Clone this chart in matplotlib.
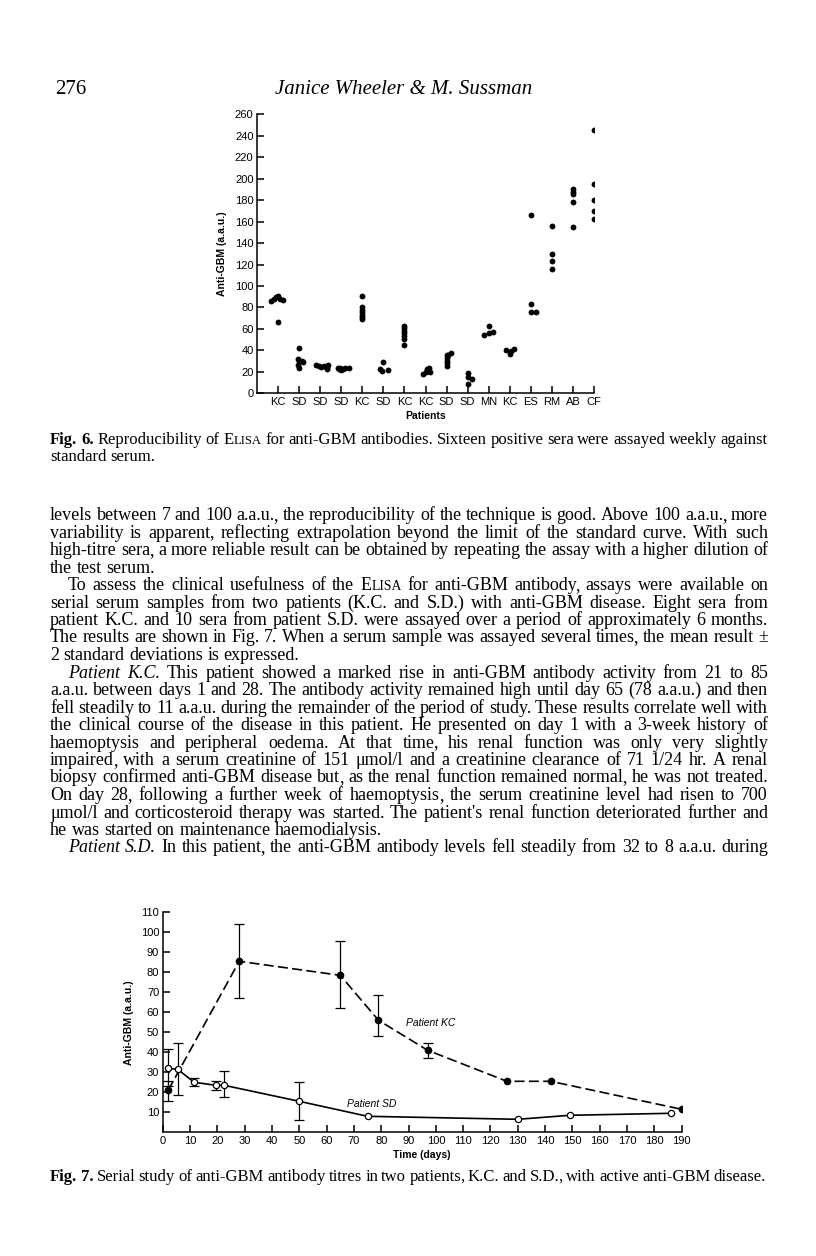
import matplotlib
matplotlib.use("Agg")
import matplotlib.pyplot as plt
import numpy as np

W, H = 816, 1256
SERIF = "Liberation Serif"
SANS = "Liberation Sans"

# Fig. 6: anti-GBM (a.a.u.) of sixteen sera, assayed repeatedly
patients = ["KC", "SD", "SD", "SD", "KC", "SD", "KC", "KC",
            "SD", "SD", "MN", "KC", "ES", "RM", "AB", "CF"]
sera_values = [
    [86, 88, 90, 91, 88, 87, 66],
    [42, 32, 30, 30, 29, 26, 24],
    [26, 25, 24.5, 25, 24, 26.5, 23],
    [24, 23.5, 21.5, 23, 23.5, 23.5, 22.5],
    [91, 80, 78, 76, 73, 71, 69],
    [29, 22.5, 21, 21.5],
    [63, 60.5, 58, 56, 53.5, 51, 45],
    [18, 20, 22.5, 24, 20, 21.5],
    [35.5, 33, 30.5, 28, 25, 37.5, 36],
    [18.5, 15, 13.5, 8.5],
    [63, 54.5, 56, 57.5],
    [40, 36.5, 39, 41.5],
    [166, 83, 76, 76],
    [156, 130, 123, 116],
    [190, 188, 186, 178, 155],
    [245, 195, 180, 170, 162],
]
# horizontal spread of overlapping dots (fraction of category spacing)
sera_jitter = [
    [-0.35, -0.2, -0.1, 0, 0.1, 0.24, 0],
    [0, -0.05, 0, 0.15, 0.2, -0.03, 0],
    [-0.22, -0.08, 0.06, 0.19, 0.32, 0.35, 0.33],
    [-0.16, -0.06, 0, 0.06, 0.19, 0.35, -0.13],
    [0, 0, 0, 0, 0, 0, 0],
    [-0.02, -0.17, -0.05, 0.22],
    [0, 0, 0, 0, 0, 0, 0],
    [-0.13, 0, 0.07, 0.16, 0.23, 0.13],
    [0, 0, 0, 0, 0, 0.2, 0.07],
    [0, 0.03, 0.2, 0.02],
    [0, -0.2, 0.02, 0.22],
    [-0.19, 0.02, 0.05, 0.2],
    [0, 0, 0, 0.24],
    [0, 0, 0, 0],
    [0, 0, 0, 0, 0],
    [0, 0, 0, 0, 0],
]

# Fig. 7: serial titres, mean with +/- 2 SD bars
kc_days = [2, 28, 65, 79, 97, 126, 142, 190]
kc_titre = [21, 85.5, 78.5, 56, 41, 25.5, 25.5, 11.5]
kc_err_lo = [5.5, 18.5, 16.5, 8, 3.6, 0, 0, 0]
kc_err_hi = [4.5, 18.5, 17, 12.5, 3.6, 0, 0, 0]
sd_days = [2, 5.5, 11.5, 19.5, 22.5, 50, 75, 130, 149, 186]
sd_titre = [32, 31.5, 25, 23.5, 23.5, 15.5, 8, 6.5, 8.5, 9.5]
sd_err_lo = [9, 13, 2, 2.2, 6, 9.5, 0, 0, 0, 0]
sd_err_hi = [9.5, 13, 2, 2.2, 7, 9.5, 0, 0, 0, 0]

# (indent, justified, text) -- "_" marks an italic word
body_lines = [
    (0, True, "levels between 7 and 100 a.a.u., the reproducibility of the technique is good. Above 100 a.a.u., more"),
    (0, True, "variability is apparent, reflecting extrapolation beyond the limit of the standard curve. With such"),
    (0, True, "high-titre sera, a more reliable result can be obtained by repeating the assay with a higher dilution of"),
    (0, False, "the test serum."),
    (18, True, "To assess the clinical usefulness of the ELISA for anti-GBM antibody, assays were available on"),
    (0, True, "serial serum samples from two patients (K.C. and S.D.) with anti-GBM disease. Eight sera from"),
    (0, True, "patient K.C. and 10 sera from patient S.D. were assayed over a period of approximately 6 months."),
    (0, True, "The results are shown in Fig. 7. When a serum sample was assayed several times, the mean result ±"),
    (0, False, "2 standard deviations is expressed."),
    (18, True, "_Patient _K.C. This patient showed a marked rise in anti-GBM antibody activity from 21 to 85"),
    (0, True, "a.a.u. between days 1 and 28. The antibody activity remained high until day 65 (78 a.a.u.) and then"),
    (0, True, "fell steadily to 11 a.a.u. during the remainder of the period of study. These results correlate well with"),
    (0, True, "the clinical course of the disease in this patient. He presented on day 1 with a 3-week history of"),
    (0, True, "haemoptysis and peripheral oedema. At that time, his renal function was only very slightly"),
    (0, True, "impaired, with a serum creatinine of 151 μmol/l and a creatinine clearance of 71 1/24 hr. A renal"),
    (0, True, "biopsy confirmed anti-GBM disease but, as the renal function remained normal, he was not treated."),
    (0, True, "On day 28, following a further week of haemoptysis, the serum creatinine level had risen to 700"),
    (0, True, "μmol/l and corticosteroid therapy was started. The patient's renal function deteriorated further and"),
    (0, False, "he was started on maintenance haemodialysis."),
    (18, True, "_Patient _S.D. In this patient, the anti-GBM antibody levels fell steadily from 32 to 8 a.a.u. during"),
]

fig = plt.figure(figsize=(W / 100, H / 100), dpi=100)
fig.patch.set_facecolor("white")
renderer = fig.canvas.get_renderer()


def put(x, y, s, **kw):
    return fig.text(x / W, 1 - y / H, s, va="baseline", **kw)


def px_axes(left, top, right, bottom):
    return fig.add_axes([left / W, 1 - bottom / H, (right - left) / W, (bottom - top) / H])


def width_of(s, **props):
    t = put(0, 0, s, family=SERIF, **props)
    w = t.get_window_extent(renderer).width
    t.remove()
    return w


def word_pieces(w, size):
    style, weight = "normal", "normal"
    if w.startswith("_"):
        style, w = "italic", w[1:]
    if w.startswith("!"):
        weight, w = "bold", w[1:]
    base = dict(fontstyle=style, fontweight=weight)
    tail = ""
    # trailing comma drawn on its own so the word keeps its baseline
    if len(w) > 1 and w.endswith(","):
        w, tail = w[:-1], ","
    if w.startswith("ELISA"):
        out = [("E", dict(base, fontsize=size)),
               ("LISA", dict(base, fontsize=size * 0.76)),
               (w[5:], dict(base, fontsize=size))]
    else:
        out = [(w, dict(base, fontsize=size))]
    if tail:
        p = dict(base, fontsize=size)
        kern = width_of(w + ",", **p) - width_of(w, **p) - width_of(",", **p)
        out.append((tail, dict(p, kern=kern - 1)))
    return out


def text_line(y, line, x0=50, x1=768, size=13, justify=True):
    items = []
    for w in line.split(" "):
        pieces = []
        for s, props in word_pieces(w, size):
            if not s:
                continue
            kern = props.pop("kern", 0)
            t = put(0, y, s, family=SERIF, **props)
            pieces.append((t, t.get_window_extent(renderer).width, kern))
        items.append(pieces)
    widths = [sum(wd + k for _, wd, k in p) for p in items]
    if justify and len(items) > 1:
        gap = (x1 - x0 - sum(widths)) / (len(items) - 1)
    else:
        gap = 0.25 * size * 100 / 72
    x = x0
    for pieces in items:
        for t, wd, kern in pieces:
            x += kern
            t.set_position((x / W, 1 - y / H))
            x += wd
        x += gap


# running head
put(55, 94, "276", family=SERIF, fontsize=15)
put(275, 94, "Janice Wheeler & M. Sussman", family=SERIF, fontstyle="italic", fontsize=15)

# ---------- Fig. 6 ----------
ax1 = px_axes(257, 114.3, 594, 393.3)
for i, (vals, jit) in enumerate(zip(sera_values, sera_jitter)):
    ax1.plot(i + 1 + np.array(jit), vals, "o", color="black", ms=4.2, mew=0)
ax1.set_xlim(0, 16)
ax1.set_ylim(0, 260)
ax1.set_yticks(range(0, 261, 20))
ax1.set_xticks(range(1, 17))
ax1.set_xticklabels(patients)
ax1.set_xlabel("Patients", family=SANS, fontweight="bold", fontsize=7.5, labelpad=3)
ax1.set_ylabel("Anti-GBM (a.a.u.)", family=SANS, fontweight="bold", fontsize=7.5, labelpad=6)

# ---------- Fig. 7 ----------
ax2 = px_axes(162.7, 912.3, 681.7, 1132.3)
ax2.plot(kc_days, kc_titre, color="black", lw=1.2, ls=(0, (6, 2.6)), zorder=2)
ax2.plot(sd_days, sd_titre, color="black", lw=1.2, zorder=2)
kc_mask = np.array(kc_err_hi) > 0
sd_mask = np.array(sd_err_hi) > 0
ax2.errorbar(np.array(kc_days)[kc_mask], np.array(kc_titre)[kc_mask],
             yerr=[np.array(kc_err_lo)[kc_mask], np.array(kc_err_hi)[kc_mask]],
             fmt="none", ecolor="black", elinewidth=0.9, capsize=3.5, capthick=0.9, zorder=1)
ax2.errorbar(np.array(sd_days)[sd_mask], np.array(sd_titre)[sd_mask],
             yerr=[np.array(sd_err_lo)[sd_mask], np.array(sd_err_hi)[sd_mask]],
             fmt="none", ecolor="black", elinewidth=0.9, capsize=3.5, capthick=0.9, zorder=1)
ax2.plot(kc_days, kc_titre, "o", color="black", ms=4.5, zorder=3)
ax2.plot(sd_days, sd_titre, "o", mfc="white", mec="black", mew=0.9, ms=4.5, zorder=3)
ax2.set_xlim(0, 190)
ax2.set_ylim(0, 110)
ax2.set_yticks(range(10, 111, 10))
ax2.set_xticks(range(0, 191, 10))
ax2.set_xlabel("Time (days)", family=SANS, fontweight="bold", fontsize=7.5, labelpad=3)
ax2.set_ylabel("Anti-GBM (a.a.u.)", family=SANS, fontweight="bold", fontsize=7.5, labelpad=5)
ax2.text(89, 54.5, "Patient KC", family=SANS, fontstyle="italic", fontsize=7.5, va="center")
ax2.text(67.5, 14, "Patient SD", family=SANS, fontstyle="italic", fontsize=7.5, va="center")

for ax in (ax1, ax2):
    for side in ("top", "right"):
        ax.spines[side].set_visible(False)
    for side in ("left", "bottom"):
        ax.spines[side].set_linewidth(1.1)
    ax.set_facecolor("none")
    ax.tick_params(direction="in", length=5, width=1.1, labelsize=8, pad=2.5)
    for lab in ax.get_xticklabels() + ax.get_yticklabels():
        lab.set_family(SANS)

# captions and body text
text_line(444, "!Fig. !6. Reproducibility of ELISA for anti-GBM antibodies. Sixteen positive sera were assayed weekly against",
          size=12)
text_line(461, "standard serum.", size=12, justify=False)
for i, (indent, just, line) in enumerate(body_lines):
    text_line(520 + 17.5 * i, line, x0=50 + indent, justify=just)
text_line(1181, "!Fig. !7. Serial study of anti-GBM antibody titres in two patients, K.C. and S.D., with active anti-GBM disease.",
          x1=766, size=12)

fig.savefig("out.png", dpi=100, facecolor="white")
